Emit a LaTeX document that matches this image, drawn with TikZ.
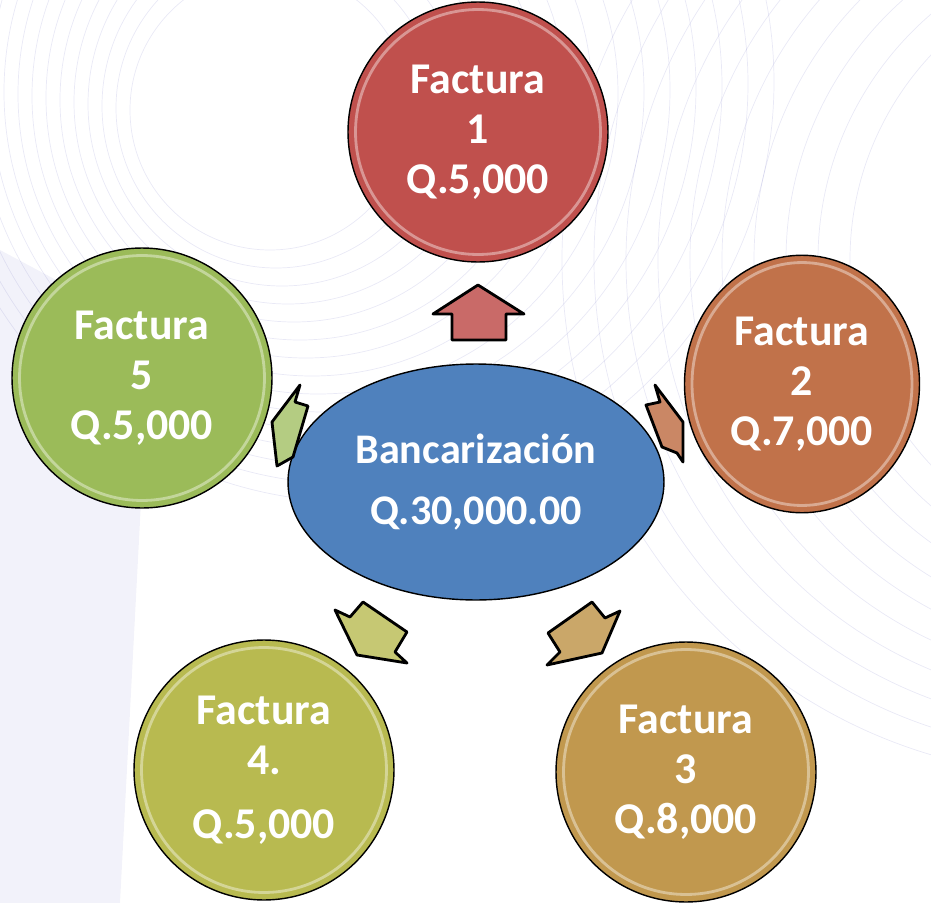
\documentclass[tikz,border=0pt]{standalone}
\usepackage{fontspec}
\setmainfont{Carlito}
\usetikzlibrary{shapes.geometric}
\definecolor{rojo}{RGB}{192,80,77}
\definecolor{naranja}{RGB}{193,114,74}
\definecolor{dorado}{RGB}{193,152,78}
\definecolor{oliva}{RGB}{184,186,80}
\definecolor{verde}{RGB}{155,187,89}
\definecolor{azul}{RGB}{79,129,189}
\tikzset{factura/.style={circle,draw=black,thick,minimum size=5.2cm,inner sep=0pt,
		text=white,align=center,font=\bfseries\fontsize{25}{28.5}\selectfont,
		path picture={\draw[white,line width=1.6pt,opacity=.4]
			(path picture bounding box.center) circle (2.45cm);}},
}

\begin{document}
\begin{tikzpicture}[x=0.02cm,y=-0.02cm,
		fondo/.style={gray!60!blue,opacity=.12,line width=.4pt},
		flecha/.style={draw=black,line width=1.6pt,line join=round}]
		
		\useasboundingbox (0,0) rectangle (931,903);
		\begin{scope}
		\clip (0,0) rectangle (931,903);
		\fill[blue!40!gray,opacity=.07] (0,250) -- (150,330) -- (120,903) -- (0,903) -- cycle;
		\foreach \i in {0,...,14}
		\draw[fondo] (270+6*\i,110-2*\i) circle (140+20*\i);
		\foreach \i in {0,...,9}
		\draw[fondo] (1150-8*\i,260) circle (300+24*\i);
		\end{scope}
		
		\node[factura,fill=rojo] (fac1) at (478,132) {Factura\\1\\Q.5,000};
		\node[factura,ellipse,fill=naranja,minimum size=0pt,minimum width=4.7cm,minimum height=5.15cm,
		path picture={\draw[white,line width=1.6pt,opacity=.4]
			(path picture bounding box.center) ellipse (2.2cm and 2.43cm);}] (fac2) at (802,384) {Factura\\2\\Q.7,000};
		\node[factura,fill=dorado] (fac3) at (686,772) {Factura\\3\\Q.8,000};
		\node[factura,fill=oliva] (fac4) at (264,770) {Factura\\4.\\[8pt]Q.5,000};
		\node[factura,fill=verde] (fac5) at (142,378) {Factura\\5\\Q.5,000};
		
		\node[ellipse,draw=black,thick,fill=azul,minimum width=7.52cm,minimum height=4.72cm,
		text=white,align=center,font=\bfseries\fontsize{24}{29}\selectfont] (banc) at (476,482)
		{Bancarización\\[6pt]Q.30,000.00};
		
		% flechas
		\draw[flecha,fill=rojo!85!white] (478,285) -- (524,314) -- (506,314) -- (506,340)
		-- (452,340) -- (452,314) -- (433,314) -- cycle;
		\draw[flecha,fill=naranja!85!white] (655,385) -- (683,422) -- (683,462) -- (677,453)
		-- (662,447) -- (646,405) -- (660,402) -- cycle;
		\draw[flecha,fill=dorado!85!white] (592,602) -- (605,618) -- (620,611) -- (602,653)
		-- (547,665) -- (560,652) -- (548,633) -- cycle;
		\draw[flecha,fill=oliva!80!white] (335,610) -- (350,617) -- (363,602) -- (407,632)
		-- (395,652) -- (407,663) -- (357,655) -- cycle;
		\draw[flecha,fill=verde!75!white] (300,385) -- (295,402) -- (308,406) -- (293,457)
		-- (277,466) -- (272,422) -- cycle;
		
\end{tikzpicture}
\end{document}
